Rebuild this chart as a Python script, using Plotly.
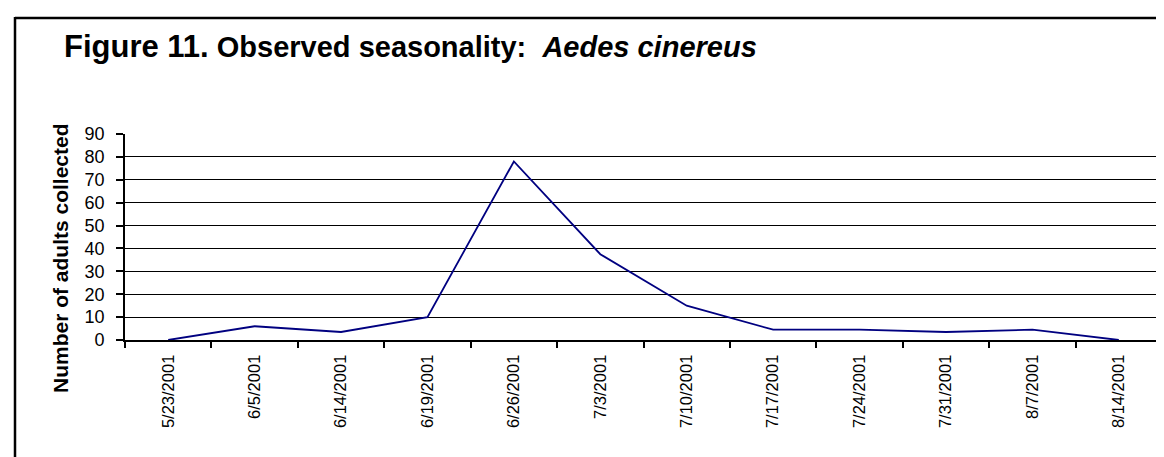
import plotly.graph_objects as go

dates = ["5/23/2001", "6/5/2001", "6/14/2001", "6/19/2001", "6/26/2001", "7/3/2001",
         "7/10/2001", "7/17/2001", "7/24/2001", "7/31/2001", "8/7/2001", "8/14/2001"]
adults = [0, 6, 3.5, 10, 78, 37.5, 15, 4.5, 4.5, 3.5, 4.5, 0]
y_ticks = [0, 10, 20, 30, 40, 50, 60, 70, 80, 90]

W, H = 1164, 457
L, R, T, B = 117, 1154, 126, 332
pw, ph = R - L, B - T

def px(x):
    return (x - L) / pw

def py(y):
    return (B - y) / ph

fig = go.Figure()
fig.add_trace(go.Scatter(x=dates, y=adults, mode="lines",
                         line=dict(color="#000080", width=1.8), showlegend=False))

fig.update_layout(
    width=W, height=H,
    margin=dict(l=L, r=W - R, t=T, b=H - B, pad=0),
    paper_bgcolor="white", plot_bgcolor="white",
    font=dict(family="Arial, Liberation Sans, sans-serif", color="black"),
    xaxis=dict(type="category", showgrid=False, showline=True, linecolor="black", linewidth=2.2,
               ticks="outside", tickson="boundaries", ticklen=6, tickwidth=1.8, tickcolor="black",
               tickangle=-90, tickfont=dict(size=16.5), ticklabelstandoff=6,
               range=[-0.5, 11.5]),
    yaxis=dict(range=[0, 90], tickvals=y_ticks, showgrid=True, gridcolor="black", gridwidth=1.2,
               zeroline=False, showline=True, linecolor="black", linewidth=1.8,
               ticks="outside", ticklen=7, tickwidth=1.8, tickcolor="black",
               tickfont=dict(size=18), ticklabelstandoff=8),
    annotations=[
        dict(text="<b><span style='font-size:31px'>Figure 11.</span> Observed seasonality:  "
                  "<i>Aedes cinereus</i></b>",
             x=px(54), y=py(58), xref="paper", yref="paper",
             xanchor="left", yanchor="bottom", showarrow=False, font=dict(size=29)),
        dict(text="<b>Number of adults collected</b>", x=px(52), y=py(250), xref="paper",
             yref="paper", xanchor="center", yanchor="middle", textangle=-90, showarrow=False,
             font=dict(size=21)),
    ],
    shapes=[
        dict(type="line", xref="paper", yref="paper", x0=px(7), x1=px(W + 5), y0=py(10), y1=py(10),
             line=dict(color="black", width=2.5)),
        dict(type="line", xref="paper", yref="paper", x0=px(7), x1=px(7), y0=py(9), y1=py(H + 5),
             line=dict(color="black", width=2.5)),
    ],
)

fig.write_html("out.html")
